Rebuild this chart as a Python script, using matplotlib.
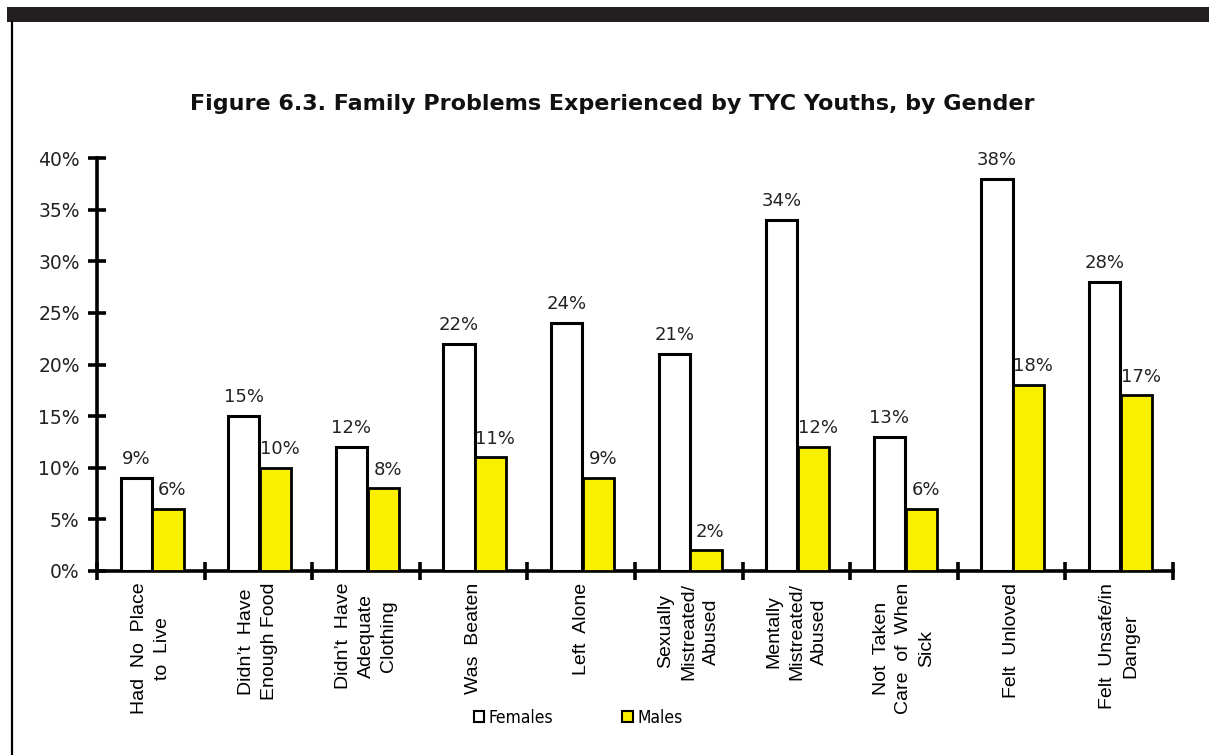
import numpy as np
import matplotlib
matplotlib.use("Agg")
import matplotlib.pyplot as plt
from matplotlib.patches import Rectangle, Patch
from matplotlib.lines import Line2D

categories = [
    "Had  No  Place\nto  Live",
    "Didn’t  Have\nEnough Food",
    "Didn’t  Have\nAdequate\nClothing",
    "Was  Beaten",
    "Left  Alone",
    "Sexually\nMistreated/\nAbused",
    "Mentally\nMistreated/\nAbused",
    "Not  Taken\nCare  of  When\nSick",
    "Felt  Unloved",
    "Felt  Unsafe/in\nDanger",
]
females = [9, 15, 12, 22, 24, 21, 34, 13, 38, 28]
males = [6, 10, 8, 11, 9, 2, 12, 6, 18, 17]
yticks = [0, 5, 10, 15, 20, 25, 30, 35, 40]

yellow = "#F9F000"

fig = plt.figure(figsize=(12.09, 7.55), dpi=100)
ax = fig.add_axes([97 / 1209, 1 - 571 / 755, (1173 - 97) / 1209, (571 - 158) / 755])

x = np.arange(len(categories))
w = 0.29
ax.bar(x - 0.135, females, w, color="white", edgecolor="black", linewidth=2.2, zorder=3)
ax.bar(x + 0.16, males, w, color=yellow, edgecolor="black", linewidth=2.0, zorder=3)

for xi, v in zip(x, females):
    ax.annotate(f"{v}%", (xi - 0.135, v), xytext=(0, 7), textcoords="offset points",
                ha="center", va="bottom", fontsize=13, color="#222222")
for xi, v in zip(x, males):
    ax.annotate(f"{v}%", (xi + 0.2, v), xytext=(0, 7), textcoords="offset points",
                ha="center", va="bottom", fontsize=13, color="#222222")

ax.set_xlim(-0.5, len(categories) - 0.5)
ax.set_ylim(0, 40)
ax.set_yticks(yticks)
ax.set_yticklabels([f"{t}%" for t in yticks], fontsize=13.5, color="#222222")

# group boundaries carry the tick marks, labels sit at the centres
ax.set_xticks(np.arange(-0.5, len(categories), 1.0), minor=False)
ax.set_xticklabels([])
ax.tick_params(axis="x", which="major", direction="inout", length=13, width=2.6)
ax.tick_params(axis="y", direction="inout", length=13, width=2.6, pad=6)
for xi, lab in zip(x, categories):
    ax.text(xi, -1.15, lab, rotation=90, ha="center", va="top", multialignment="center",
            fontsize=14, family="Liberation Sans", linespacing=1.45)

for side in ["top", "right"]:
    ax.spines[side].set_visible(False)
for side in ["left", "bottom"]:
    ax.spines[side].set_linewidth(2.6)

fig.text(612 / 1209, 1 - 104 / 755,
         "Figure 6.3. Family Problems Experienced by TYC Youths, by Gender",
         ha="center", va="center", fontsize=16, fontweight="bold", color="#111111")

handles = [Patch(facecolor="white", edgecolor="black", linewidth=1.5),
           Patch(facecolor=yellow, edgecolor="black", linewidth=1.5)]
fig.legend(handles, ["Females", "Males"], loc="center", ncol=2, frameon=False,
           bbox_to_anchor=(578 / 1209, 1 - 718 / 755), handlelength=0.6, handleheight=0.6,
           handletextpad=0.25, columnspacing=4.0,
           prop={"family": "DejaVu Sans", "stretch": "condensed", "size": 12.5})

# page frame: dark bar across the top, thin rule down the left edge
fig.patches.append(Rectangle((7 / 1209, 1 - 22 / 755), 1, 15 / 755, transform=fig.transFigure,
                             facecolor="#231f20", edgecolor="none"))
fig.lines.append(Line2D([11.5 / 1209, 11.5 / 1209], [0, 1 - 22 / 755], transform=fig.transFigure,
                        color="black", linewidth=1.6))

fig.savefig("out.png", dpi=100)
